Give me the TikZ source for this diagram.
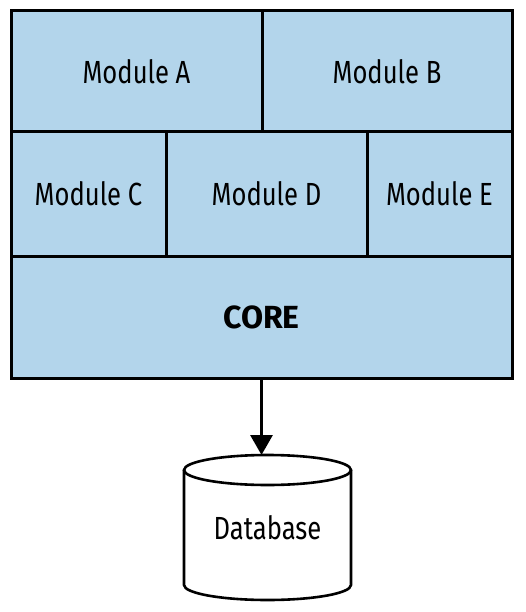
\documentclass[tikz,border=0pt]{standalone}
\usepackage{fontspec}
\setmainfont[FakeStretch=0.80]{Fira Sans}
\newfontfamily\corefont{Fira Sans}
\usetikzlibrary{arrows.meta}
\definecolor{modblue}{HTML}{B3D5EB}
\tikzset{
  modbox/.style={draw=black, fill=modblue, line width=3pt, rectangle, inner sep=0pt, outer sep=0pt,
    anchor=north west, font=\fontsize{32}{38}\selectfont},
  dbtext/.style={rectangle, inner sep=0pt, outer sep=0pt, minimum width=167pt, minimum height=145pt,
    font=\fontsize{32}{38}\selectfont},
  cyl/.style={draw=black, line width=2.6pt, fill=white},
  flow/.style={draw=black, line width=3pt, -{Triangle[length=20pt,width=22pt]}}
}
\begin{document}
\begin{tikzpicture}[x=1pt,y=-1pt]
\useasboundingbox (0,0) rectangle (526,612);
\node[modbox, minimum width=251pt, minimum height=121pt] (A) at (11,11) {Module A};
\node[modbox, minimum width=250pt, minimum height=121pt] (B) at (262,11) {Module B};
\node[modbox, minimum width=155pt, minimum height=124pt] (C) at (11,132) {Module C};
\node[modbox, minimum width=201pt, minimum height=124pt] (D) at (166,132) {Module D};
\node[modbox, minimum width=145pt, minimum height=124pt] (E) at (367,132) {Module E};
\node[modbox, minimum width=501pt, minimum height=122pt] (core) at (11,256) {\corefont\bfseries CORE};
% database cylinder
\node[dbtext] (db) at (267.5,527.5) {};
\fill[white] ([yshift=-15pt]db.north west) rectangle ([yshift=15pt]db.south east);
\draw[cyl] ([yshift=-15pt]db.north west) -- ([yshift=15pt]db.south west)
  arc[start angle=180, end angle=360, x radius=83.5pt, y radius=15pt]
  -- ([yshift=-15pt]db.north east);
\draw[cyl] ([yshift=-15pt]db.north) ellipse[x radius=83.5pt, y radius=15pt];
\node[dbtext] at (db.center) {Database};
\coordinate (dbin) at (core.south |- db.north);
\draw[flow] (core.south) -- (dbin);
\end{tikzpicture}
\end{document}
